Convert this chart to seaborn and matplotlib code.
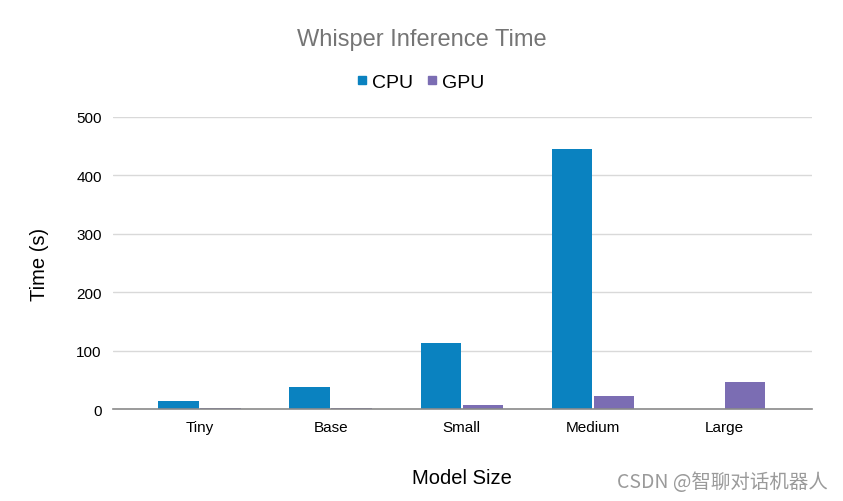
import matplotlib
matplotlib.use("Agg")
import matplotlib.pyplot as plt
import seaborn as sns
import pandas as pd
from matplotlib.lines import Line2D

models = ['Tiny', 'Base', 'Small', 'Medium', 'Large']
cpu_times = [14, 38, 114, 445, 0]
gpu_times = [1.5, 2.5, 7.5, 23, 47]

df = pd.DataFrame({
    'Model Size': models * 2,
    'Time': cpu_times + gpu_times,
    'Device': ['CPU'] * len(models) + ['GPU'] * len(models),
})

sns.set_theme(style="white")
plt.rcParams['font.family'] = ['Liberation Sans', 'DejaVu Sans']

fig = plt.figure(figsize=(8.43, 5.02), dpi=100)
ax = fig.add_axes([0.134, 0.183, 0.829, 0.582])

palette = {'CPU': '#0A82C0', 'GPU': '#7B6DB3'}
sns.barplot(data=df, x='Model Size', y='Time', hue='Device', palette=palette,
            width=0.64, gap=0.04, saturation=1, ax=ax, legend=False,
            edgecolor='none')

ax.set_xlim(-0.66, 4.67)
ax.set_ylim(0, 500)
ax.set_yticks([0, 100, 200, 300, 400, 500])
ax.grid(axis='y', color='#d9d9d9', linewidth=1)
ax.set_axisbelow(True)
for side in ['top', 'right', 'left']:
    ax.spines[side].set_visible(False)
ax.spines['bottom'].set_color('#8a8a8a')
ax.spines['bottom'].set_linewidth(1.2)
ax.tick_params(axis='both', length=0, labelsize=11, colors='#000000', pad=8)

ax.set_xlabel('Model Size', fontsize=14.5, labelpad=24, color='black')
ax.set_ylabel('Time (s)', fontsize=14.5, labelpad=20, color='black')

fig.text(0.5, 0.92, 'Whisper Inference Time', ha='center', va='center',
         fontsize=17, color='#757575')

# legend with square markers
handles = [Line2D([0], [0], marker='s', linestyle='', markersize=6,
                  color=palette[d]) for d in ['CPU', 'GPU']]
fig.legend(handles, ['CPU', 'GPU'], loc='center', bbox_to_anchor=(0.497, 0.835),
           ncol=2, frameon=False, fontsize=14, handletextpad=0.1,
           columnspacing=0.6, handlelength=0.8, labelcolor='black')

fig.text(0.982, 0.038, 'CSDN @智聊对话机器人', ha='right', va='center',
         fontsize=14, color='#9a9a9a',
         family=['Noto Sans CJK SC', 'DejaVu Sans'])

fig.savefig('out.png', dpi=100)
